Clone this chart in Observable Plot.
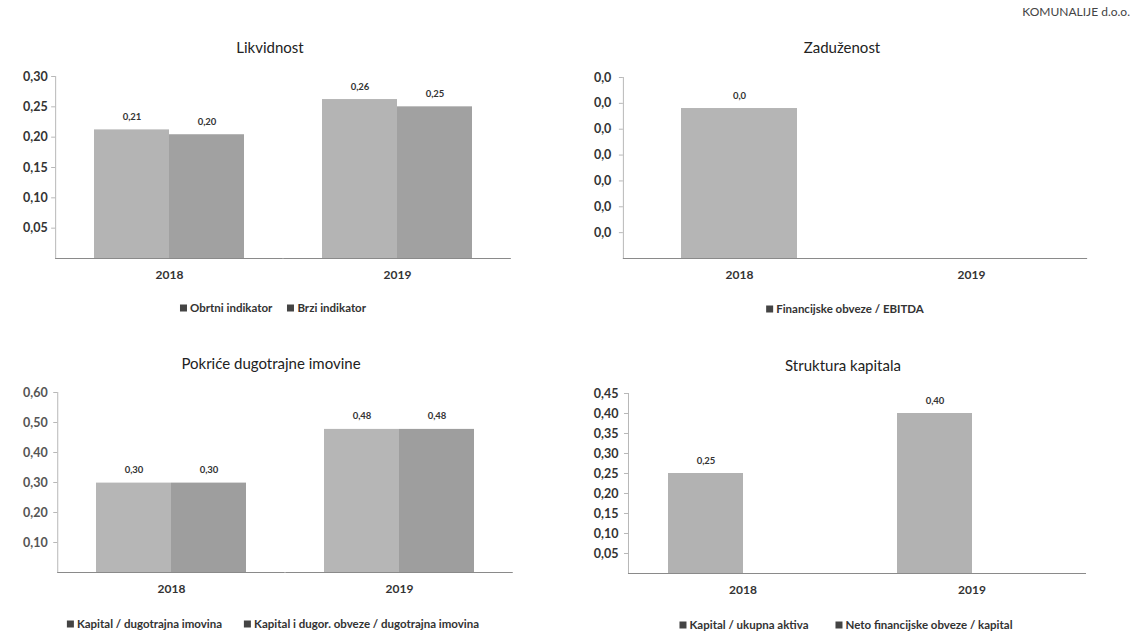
<!DOCTYPE html>
<html><head><meta charset="utf-8">
<script src="https://cdn.jsdelivr.net/npm/d3@7"></script>
<script src="https://cdn.jsdelivr.net/npm/@observablehq/plot@0.6"></script>
<style>
body{margin:0;background:#fff;}
#root{position:relative;width:1139px;height:633px;overflow:hidden;font-family:Lato,"Open Sans",sans-serif;color:#333;background:#fff;}
.title{position:absolute;font-size:15px;color:#222;transform:translate(-50%,-50%);white-space:nowrap;}
.legend{position:absolute;font-size:11.5px;font-weight:bold;color:#333;transform:translate(-50%,-50%);white-space:nowrap;}
.legend .item{display:inline-block;}
.legend .sw{display:inline-block;width:7px;height:7px;background:#444;margin-right:3px;vertical-align:0px;}
.chart{position:absolute;}
.company{position:absolute;right:9px;top:4px;font-size:12px;color:#444;}
</style>
</head><body>
<div id="root"><div class="company">KOMUNALIJE d.o.o.</div></div>
<script>
// ---- data ----
const years = ["2018", "2019"];

// Likvidnost
const likvTitle = "Likvidnost";
const likvSeries = ["Obrtni indikator", "Brzi indikator"];
const likvObrtni = [0.212, 0.262];
const likvBrzi = [0.204, 0.250];
const likvTicks = [0.05, 0.10, 0.15, 0.20, 0.25, 0.30];

// Zaduženost
const zadTitle = "Zaduženost";
const zadSeries = ["Financijske obveze / EBITDA"];
const zadFinObvEbitda = [0.029, null];
const zadTicks = [0.005, 0.010, 0.015, 0.020, 0.025, 0.030, 0.035];

// Pokriće dugotrajne imovine
const pokTitle = "Pokriće dugotrajne imovine";
const pokSeries = ["Kapital / dugotrajna imovina", "Kapital i dugor. obveze / dugotrajna imovina"];
const pokKapital = [0.298, 0.477];
const pokKapitalDugor = [0.298, 0.477];
const pokTicks = [0.10, 0.20, 0.30, 0.40, 0.50, 0.60];

// Struktura kapitala
const strTitle = "Struktura kapitala";
const strSeries = ["Kapital / ukupna aktiva", "Neto financijske obveze / kapital"];
const strKapitalAktiva = [0.25, 0.40];
const strNetoObvKapital = [null, null];
const strTicks = [0.05, 0.10, 0.15, 0.20, 0.25, 0.30, 0.35, 0.40, 0.45];

// ---- helpers ----
const comma = (n) => (v) => (v == null ? "" : v.toFixed(n).replace(".", ","));
const root = document.getElementById("root");

function addDiv(cls, html, x, y) {
  const d = document.createElement("div");
  d.className = cls;
  d.innerHTML = html;
  d.style.left = x + "px";
  d.style.top = y + "px";
  root.appendChild(d);
  return d;
}

function panel(cfg) {
  const rows = years.flatMap((yr, i) =>
    cfg.series.map((s, j) => ({year: yr, series: s, value: cfg.values[j][i]})));
  const has = d => d.value != null;
  // outer padding of the facet band scale (distance from frame edge to first facet)
  const step = (cfg.width - cfg.ml - cfg.mr) / (years.length - cfg.pi + 2 * cfg.po);
  const outer = cfg.po * step;
  const chart = Plot.plot({
    width: cfg.width, height: cfg.height,
    marginLeft: cfg.ml, marginRight: cfg.mr, marginTop: cfg.mt, marginBottom: cfg.mb,
    style: {fontFamily: "Lato, 'Open Sans', sans-serif", fontSize: "12px", color: "#333", background: "transparent", overflow: "visible"},
    fx: {domain: years, paddingInner: cfg.pi, paddingOuter: cfg.po, label: null, axis: null},
    x: {domain: cfg.series, padding: 0, axis: null},
    y: {domain: cfg.yDomain, axis: null},
    color: {domain: cfg.series, range: cfg.colors},
    marks: [
      Plot.barY(rows, {fx: "year", x: "series", y1: 0, y2: "value", fill: "series", filter: has}),
      Plot.text(rows, {fx: "year", x: "series", y: "value", text: d => cfg.valFmt(d.value), filter: has,
        dy: -13, fontSize: 9.5, fontWeight: "bold", fill: "#333"}),
      Plot.frame({anchor: "left", facetAnchor: "left", insetLeft: -outer, stroke: "#b8b8b8"}),
      Plot.ruleY([0], {insetLeft: -outer, insetRight: -outer, stroke: "#8a8a8a", strokeWidth: 1.2}),
      Plot.axisY(cfg.yTicks, {anchor: "left", dx: -outer, tickSize: 4, tickPadding: cfg.tp,
        tickFormat: cfg.yFmt, stroke: "#b8b8b8", fill: cfg.tickColor || "#333", fontWeight: "bold", fontSize: 12.5, label: null}),
      Plot.axisFx({anchor: "bottom", tickSize: 0, tickPadding: 12, fontWeight: "bold", fontSize: 12, label: null, fill: "#333"})
    ]
  });
  const wrap = document.createElement("div");
  wrap.className = "chart";
  wrap.style.left = cfg.left + "px";
  wrap.style.top = cfg.top + "px";
  wrap.appendChild(chart);
  root.appendChild(wrap);
  addDiv("title", cfg.title, cfg.titleX, cfg.titleY);
  const legHtml = cfg.series.map(s => `<span class="item"><span class="sw"></span>${s}</span>`)
    .join(`<span style="display:inline-block;width:${cfg.legGap}px"></span>`);
  addDiv("legend", legHtml, cfg.legX, cfg.legY);
}

panel({
  title: likvTitle, titleX: 270, titleY: 47,
  series: likvSeries, values: [likvObrtni, likvBrzi], colors: ["#b4b4b4", "#a1a1a1"],
  yDomain: [0, 0.30], yTicks: likvTicks, yFmt: comma(2), valFmt: comma(2), tp: 4,
  left: 0, top: 60, width: 530, height: 230, ml: 55, mr: 18, mt: 16, mb: 32,
  pi: 0.34, po: 0.17, legX: 273, legY: 307, legGap: 15
});

panel({
  title: zadTitle, titleX: 842, titleY: 47,
  series: zadSeries, values: [zadFinObvEbitda], colors: ["#b5b5b5"],
  yDomain: [0, 0.035], yTicks: zadTicks, yFmt: comma(1), valFmt: comma(1), tp: 8,
  left: 570, top: 60, width: 537, height: 230, ml: 52, mr: 20, mt: 17, mb: 32,
  pi: 0.5, po: 0.25, legX: 845, legY: 308, legGap: 15
});

panel({
  title: pokTitle, titleX: 271, titleY: 363,
  series: pokSeries, values: [pokKapital, pokKapitalDugor], colors: ["#b6b6b6", "#9e9e9e"],
  yDomain: [0, 0.60], yTicks: pokTicks, yFmt: comma(2), valFmt: comma(2), tp: 6, tickColor: "#555",
  left: 0, top: 376, width: 530, height: 230, ml: 57, mr: 17, mt: 16, mb: 34,
  pi: 0.34, po: 0.17, legX: 273, legY: 623, legGap: 22
});

panel({
  title: strTitle, titleX: 843, titleY: 365,
  series: strSeries, values: [strKapitalAktiva, strNetoObvKapital], colors: ["#b2b2b2", "#9e9e9e"],
  yDomain: [0, 0.45], yTicks: strTicks, yFmt: comma(2), valFmt: comma(2), tp: 6,
  left: 570, top: 376, width: 537, height: 230, ml: 58, mr: 20, mt: 17, mb: 33,
  pi: 0.34, po: 0.17, legX: 846, legY: 624, legGap: 27
});
</script>
</body></html>
